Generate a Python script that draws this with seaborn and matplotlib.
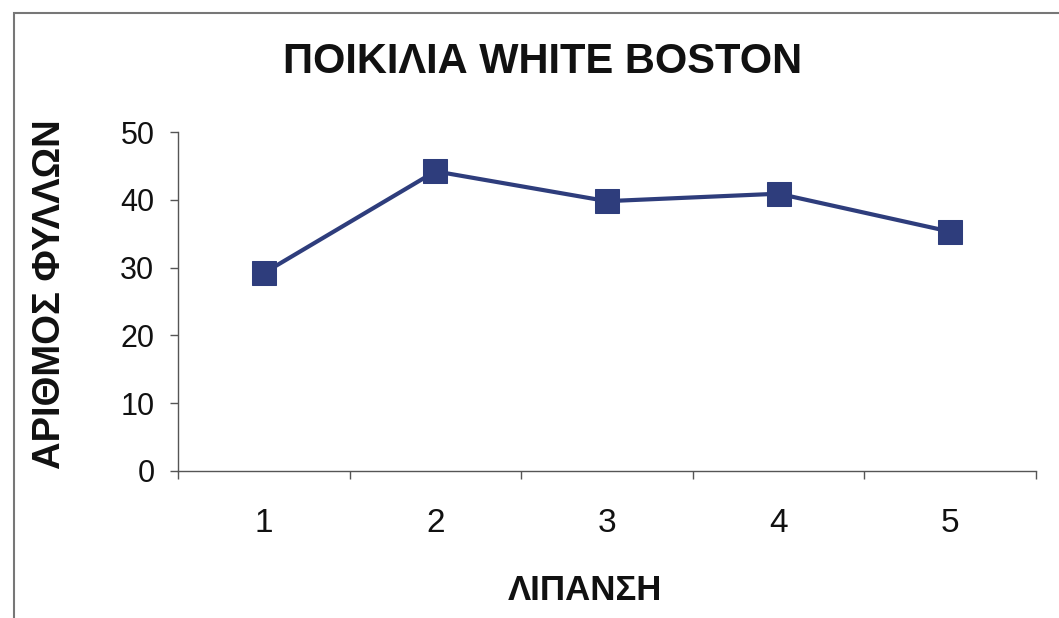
import matplotlib
matplotlib.use("Agg")
import matplotlib.pyplot as plt
import seaborn as sns
import pandas as pd
from matplotlib.patches import Rectangle

# Data
treatments = [1, 2, 3, 4, 5]
leaf_counts = [29.2, 44.2, 39.8, 40.9, 35.3]
y_ticks = [0, 10, 20, 30, 40, 50]

title_text = "ΠΟΙΚΙΛΙΑ WHITE BOSTON"
x_label = "ΛΙΠΑΝΣΗ"
y_label = "ΑΡΙΘΜΟΣ ΦΥΛΛΩΝ"

sns.set_theme(style="white")
plt.rcParams['font.family'] = ['Liberation Sans', 'DejaVu Sans']

df = pd.DataFrame({"treatment": treatments, "leaves": leaf_counts})

fig = plt.figure(figsize=(10.59, 6.18), dpi=100)
fig.patch.set_facecolor("white")
ax = fig.add_axes([178 / 1059, 1 - 471 / 618, (1036 - 178) / 1059, (471 - 132) / 618])

line_color = "#2E3D7C"
sns.lineplot(data=df, x="treatment", y="leaves", ax=ax, color=line_color,
             linewidth=3.0, marker="s", markersize=17.5,
             markeredgecolor=line_color, markerfacecolor=line_color)

ax.set_xlim(0.5, 5.5)
ax.set_ylim(0, 50)

# Category boundaries carry the tick marks, centres carry the labels
ax.set_xticks([0.5, 1.5, 2.5, 3.5, 4.5, 5.5])
ax.set_xticklabels([])
ax.set_xticks(treatments, minor=True)
ax.set_xticklabels([str(t) for t in treatments], minor=True)
ax.tick_params(axis="x", which="major", direction="out", length=6,
               width=1, color="#555555", bottom=True)
ax.tick_params(axis="x", which="minor", length=0, pad=27, labelsize=24,
               labelcolor="#111111", bottom=True)

ax.set_yticks(y_ticks)
ax.set_yticklabels([str(v) for v in y_ticks])
ax.tick_params(axis="y", direction="out", length=6, width=1,
               color="#555555", pad=11, labelsize=22, labelcolor="#111111",
               left=True)

for side in ("top", "right"):
    ax.spines[side].set_visible(False)
for side in ("left", "bottom"):
    ax.spines[side].set_color("#555555")
    ax.spines[side].set_linewidth(1.0)

ax.set_xlabel("")
ax.set_ylabel("")

fig.text(543 / 1059, 1 - 62 / 618, title_text, ha="center", va="center",
         fontsize=30, fontweight="bold", color="#111111")
fig.text(585 / 1059, 1 - 590 / 618, x_label, ha="center", va="center",
         fontsize=25, fontweight="bold", color="#111111")
fig.text(50 / 1059, 1 - 294 / 618, y_label, ha="center", va="center",
         rotation=90, fontsize=27.5, fontweight="bold", color="#111111")

# Chart-area frame
fig.patches.append(Rectangle((14 / 1059, -0.05), 1.2, 1 - 13 / 618 + 0.05,
                             transform=fig.transFigure, fill=False,
                             edgecolor="#777777", linewidth=1.5))

fig.savefig("out.png", dpi=100, facecolor="white")
